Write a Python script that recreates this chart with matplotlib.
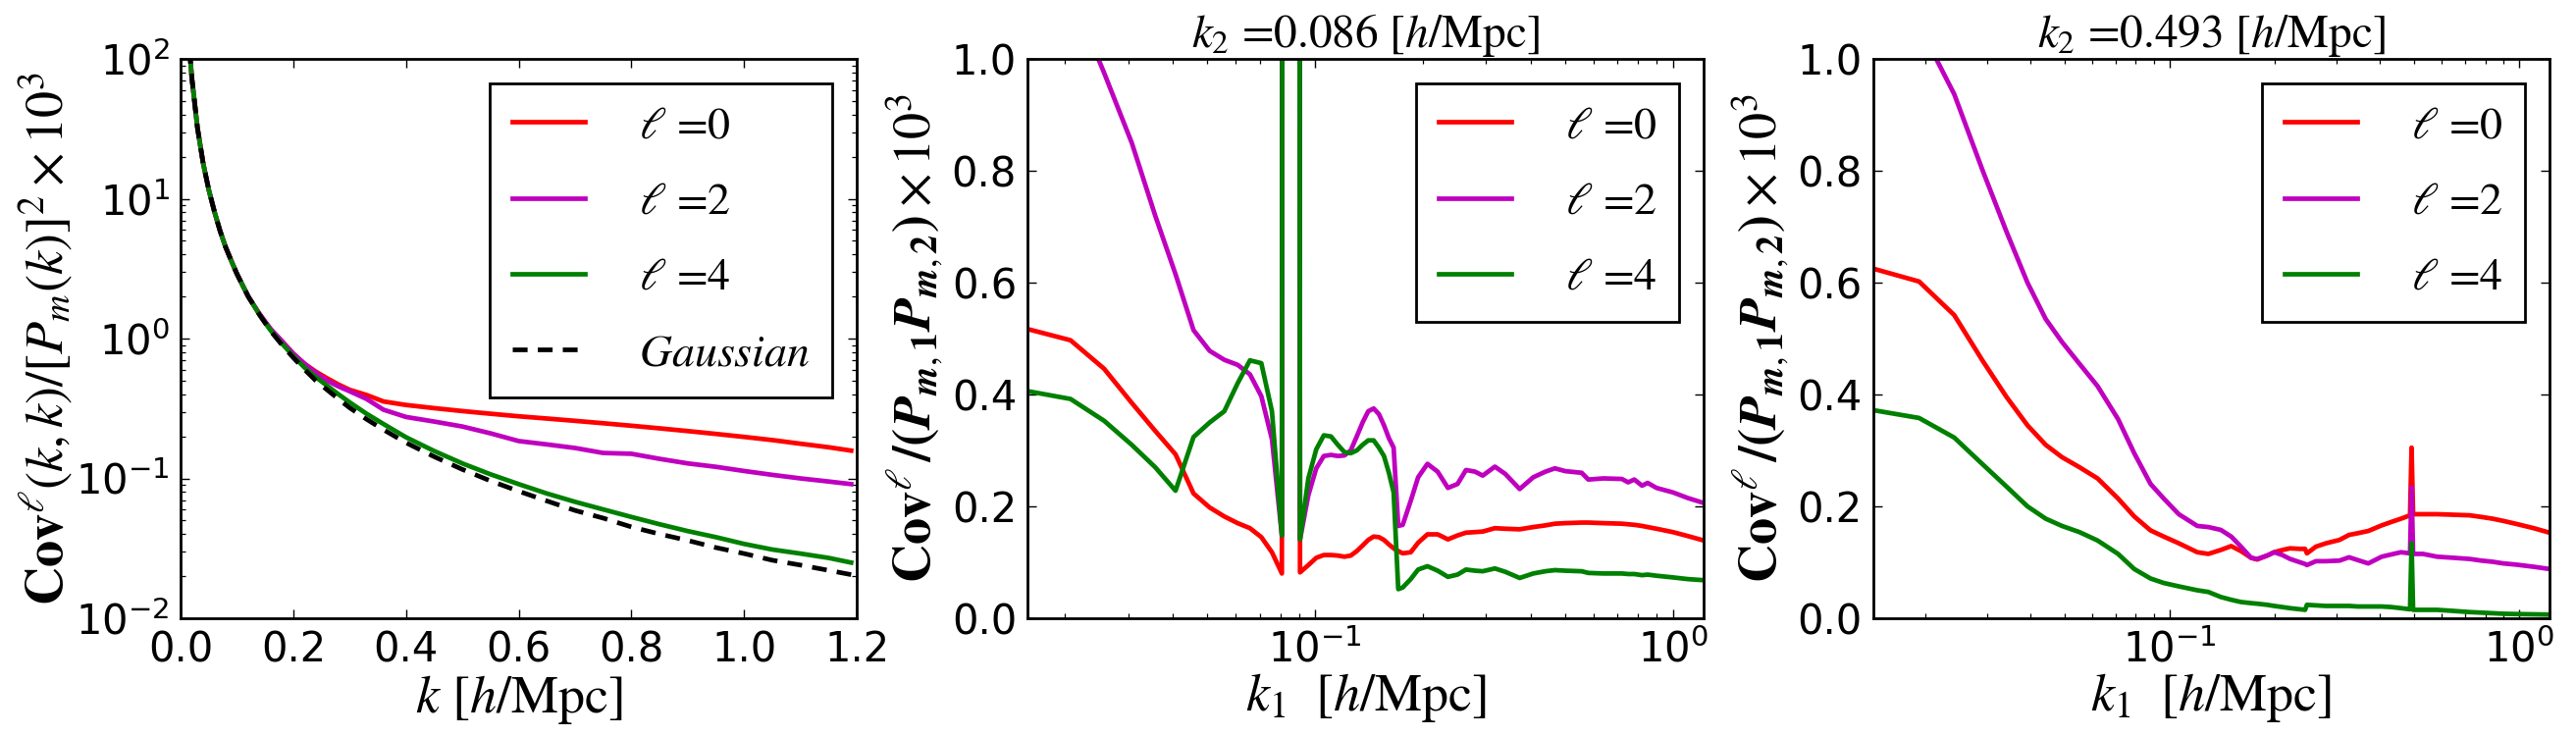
import matplotlib
matplotlib.use("Agg")
import matplotlib.pyplot as plt
import numpy as np

# ---------------- data ----------------
# Panel 1: diagonal covariance
k_diag = [0.0157, 0.02, 0.03, 0.04, 0.05, 0.06, 0.07, 0.08, 0.09, 0.10, 0.12, 0.14, 0.16, 0.18,
          0.20, 0.22, 0.24, 0.26, 0.28, 0.30, 0.33, 0.36, 0.40, 0.45, 0.50, 0.55, 0.60, 0.65,
          0.70, 0.75, 0.80, 0.85, 0.90, 0.95, 1.00, 1.05, 1.10, 1.15, 1.19]
gauss = [118, 73, 32, 18, 11.6, 8.1, 5.9, 4.5, 3.6, 2.9, 2.0, 1.48, 1.13, 0.90,
         0.73, 0.60, 0.50, 0.43, 0.37, 0.32, 0.265, 0.223, 0.18, 0.143, 0.116, 0.096, 0.081, 0.069,
         0.059, 0.052, 0.045, 0.040, 0.036, 0.032, 0.029, 0.026, 0.024, 0.022, 0.0205]
diag_l0 = [118, 73, 32, 18, 11.6, 8.1, 5.9, 4.5, 3.6, 2.9, 2.0, 1.5, 1.16, 0.95,
           0.78, 0.66, 0.58, 0.52, 0.47, 0.43, 0.395, 0.355, 0.335, 0.318, 0.303, 0.29, 0.278, 0.268,
           0.258, 0.248, 0.238, 0.228, 0.218, 0.208, 0.198, 0.188, 0.177, 0.167, 0.158]
diag_l2 = [118, 73, 32, 18, 11.6, 8.1, 5.9, 4.5, 3.6, 2.9, 2.0, 1.5, 1.17, 0.96,
           0.78, 0.66, 0.57, 0.50, 0.455, 0.42, 0.37, 0.31, 0.275, 0.255, 0.235, 0.21, 0.185, 0.175,
           0.165, 0.152, 0.150, 0.138, 0.128, 0.121, 0.113, 0.106, 0.100, 0.095, 0.091]
diag_l4 = [118, 73, 32, 18, 11.6, 8.1, 5.9, 4.5, 3.6, 2.9, 2.0, 1.48, 1.14, 0.92,
           0.75, 0.62, 0.53, 0.46, 0.40, 0.35, 0.29, 0.245, 0.197, 0.157, 0.128, 0.107, 0.091, 0.078,
           0.068, 0.060, 0.053, 0.047, 0.042, 0.038, 0.034, 0.031, 0.029, 0.027, 0.025]

# Panel 2: k2 = 0.086
k1_a = [0.0157, 0.0207, 0.0257, 0.0307, 0.0357, 0.0407, 0.0457, 0.0507, 0.0557, 0.0607,
        0.0657, 0.0707, 0.0757, 0.0807, 0.0857, 0.0907, 0.0957, 0.1007, 0.1057, 0.1107,
        0.1157, 0.1207, 0.1257, 0.1307, 0.1357, 0.1407, 0.1457, 0.1507, 0.1557, 0.1607,
        0.1657, 0.1707, 0.1757, 0.185, 0.194, 0.206, 0.22, 0.235, 0.25, 0.264,
        0.28, 0.294, 0.318, 0.34, 0.373, 0.407, 0.44, 0.468, 0.50, 0.556,
        0.58, 0.64, 0.72, 0.75, 0.78, 0.82, 0.85, 0.90, 1.0, 1.1, 1.22]
a_l0 = [0.517, 0.497, 0.446, 0.385, 0.335, 0.293, 0.223, 0.198, 0.182, 0.170,
        0.161, 0.145, 0.118, 0.080, 25.0, 0.082, 0.095, 0.108, 0.113, 0.113,
        0.112, 0.110, 0.112, 0.120, 0.130, 0.140, 0.146, 0.145, 0.140, 0.132,
        0.125, 0.120, 0.116, 0.118, 0.135, 0.150, 0.150, 0.141, 0.148, 0.153,
        0.154, 0.155, 0.161, 0.160, 0.159, 0.163, 0.166, 0.169, 0.170, 0.171,
        0.171, 0.170, 0.169, 0.168, 0.167, 0.165, 0.163, 0.160, 0.154, 0.147, 0.139]
a_l2 = [1.35, 1.12, 0.975, 0.85, 0.72, 0.615, 0.515, 0.478, 0.462, 0.453,
        0.436, 0.397, 0.32, 0.148, 25.0, 0.141, 0.22, 0.268, 0.290, 0.292,
        0.290, 0.291, 0.300, 0.325, 0.350, 0.370, 0.375, 0.365, 0.345, 0.322,
        0.305, 0.165, 0.167, 0.210, 0.252, 0.276, 0.262, 0.233, 0.240, 0.265,
        0.262, 0.255, 0.271, 0.258, 0.231, 0.252, 0.262, 0.268, 0.263, 0.260,
        0.248, 0.250, 0.249, 0.243, 0.248, 0.237, 0.242, 0.233, 0.225, 0.215, 0.206]
a_l4 = [0.406, 0.392, 0.353, 0.31, 0.27, 0.228, 0.324, 0.35, 0.37, 0.42,
        0.461, 0.456, 0.37, 0.148, 25.0, 0.141, 0.25, 0.302, 0.327, 0.325,
        0.310, 0.297, 0.295, 0.300, 0.310, 0.318, 0.318, 0.305, 0.290, 0.260,
        0.225, 0.052, 0.055, 0.070, 0.087, 0.093, 0.085, 0.074, 0.078, 0.087,
        0.085, 0.084, 0.089, 0.083, 0.072, 0.080, 0.084, 0.086, 0.085, 0.084,
        0.081, 0.080, 0.080, 0.079, 0.079, 0.077, 0.078, 0.076, 0.073, 0.070, 0.068]

# Panel 3: k2 = 0.493
k1_b = [0.0142, 0.0192, 0.0242, 0.0292, 0.0342, 0.0392, 0.0442, 0.0492, 0.0552, 0.0622,
        0.0712, 0.0792, 0.0882, 0.0962, 0.1062, 0.12, 0.129, 0.14, 0.15, 0.16,
        0.171, 0.178, 0.19, 0.199, 0.21, 0.221, 0.236, 0.244, 0.247, 0.262,
        0.28, 0.306, 0.326, 0.345, 0.37, 0.404, 0.43, 0.459, 0.487, 0.492,
        0.497, 0.53, 0.582, 0.65, 0.721, 0.78, 0.838, 0.9, 0.975, 1.1, 1.22]
b_l0 = [0.625, 0.602, 0.542, 0.46, 0.395, 0.345, 0.31, 0.288, 0.27, 0.25,
        0.214, 0.182, 0.157, 0.146, 0.134, 0.118, 0.115, 0.122, 0.129, 0.12,
        0.108, 0.105, 0.112, 0.118, 0.122, 0.125, 0.124, 0.124, 0.116, 0.128,
        0.134, 0.14, 0.149, 0.152, 0.156, 0.166, 0.172, 0.178, 0.184, 0.305,
        0.186, 0.186, 0.186, 0.185, 0.184, 0.181, 0.178, 0.174, 0.169, 0.161, 0.153]
b_l2 = [1.3, 1.06, 0.937, 0.80, 0.69, 0.60, 0.535, 0.494, 0.455, 0.415,
        0.356, 0.295, 0.24, 0.214, 0.186, 0.165, 0.163, 0.158, 0.146, 0.128,
        0.108, 0.106, 0.112, 0.118, 0.113, 0.106, 0.100, 0.097, 0.095, 0.102,
        0.102, 0.103, 0.109, 0.104, 0.098, 0.110, 0.114, 0.118, 0.116, 0.234,
        0.115, 0.115, 0.110, 0.108, 0.106, 0.103, 0.101, 0.098, 0.096, 0.092, 0.088]
b_l4 = [0.372, 0.358, 0.323, 0.275, 0.235, 0.20, 0.178, 0.165, 0.154, 0.139,
        0.115, 0.088, 0.071, 0.063, 0.057, 0.050, 0.047, 0.038, 0.033, 0.029,
        0.027, 0.026, 0.024, 0.022, 0.020, 0.018, 0.016, 0.015, 0.024, 0.023,
        0.022, 0.022, 0.022, 0.021, 0.021, 0.021, 0.020, 0.018, 0.016, 0.134,
        0.015, 0.015, 0.015, 0.013, 0.011, 0.010, 0.009, 0.008, 0.0075, 0.007, 0.0065]

ell_labels = [r"$\ell$ =0", r"$\ell$ =2", r"$\ell$ =4"]
gauss_label = r"$Gaussian$"
titles = [r"$k_2$ =0.086 [$h$/Mpc]", r"$k_2$ =0.493 [$h$/Mpc]"]
colors = ["#ff0000", "#bf00bf", "#008000"]

# ---------------- style ----------------
plt.rcParams["font.family"] = ["DejaVu Sans"]
plt.rcParams["mathtext.fontset"] = "dejavusans"
TICK = 30
LAB = 39
LEG = 33
LW = 3.4

fig = plt.figure(figsize=(26.25, 7.5), dpi=100)
W = 0.2625
axs = [fig.add_axes([x0, 0.16, W, 0.76]) for x0 in (0.0701, 0.3989, 0.7272)]


def style(ax):
    ax.tick_params(which="both", direction="in", top=True, right=True, labelsize=TICK, pad=8)
    ax.tick_params(which="major", length=6.5, width=1.0)
    ax.tick_params(which="minor", length=3.6, width=0.9)
    for s in ax.spines.values():
        s.set_linewidth(2.0)


def make_legend(ax):
    leg = ax.legend(loc="upper right", prop={"family": "STIXGeneral", "size": LEG},
                    handlelength=1.6, handletextpad=1.2, borderpad=0.5, labelspacing=0.77,
                    borderaxespad=0.55, fancybox=False, edgecolor="black", framealpha=1)
    leg.get_frame().set_linewidth(2.0)
    for t in leg.get_texts():
        t.set_math_fontfamily("stix")
    return leg


# Panel 1
ax = axs[0]
for y, c, lab in zip([diag_l0, diag_l2, diag_l4], colors, ell_labels):
    ax.plot(k_diag, y, color=c, lw=LW, label=lab)
ax.plot(k_diag, gauss, color="black", lw=LW, ls=(0, (3.2, 2.2)), label=gauss_label)
ax.set_yscale("log")
ax.set_xlim(0, 1.2)
ax.set_ylim(1e-2, 1e2)
ax.set_xticks([0.0, 0.2, 0.4, 0.6, 0.8, 1.0, 1.2])
ax.set_xticklabels(["0.0", "0.2", "0.4", "0.6", "0.8", "1.0", "1.2"])
style(ax)
ax.set_xlabel(r"$k\ [h/\mathrm{Mpc}]$", fontsize=LAB, math_fontfamily="stix", labelpad=2)
ax.set_ylabel(r"$\mathbf{Cov}^{\ell}(k,k)/[P_m(k)]^2\times10^3$",
              fontsize=LAB, math_fontfamily="stix", labelpad=0)
make_legend(ax)

# Panels 2 and 3
for ax, kk, ys, ttl in [(axs[1], k1_a, [a_l0, a_l2, a_l4], titles[0]),
                        (axs[2], k1_b, [b_l0, b_l2, b_l4], titles[1])]:
    for y, c, lab in zip(ys, colors, ell_labels):
        ax.plot(kk, y, color=c, lw=LW, label=lab)
    ax.set_xscale("log")
    ax.set_xlim(min(kk), max(kk))
    ax.set_ylim(0, 1.0)
    ax.set_yticks([0.0, 0.2, 0.4, 0.6, 0.8, 1.0])
    ax.set_yticklabels(["0.0", "0.2", "0.4", "0.6", "0.8", "1.0"])
    style(ax)
    ax.set_title(ttl, fontsize=34, math_fontfamily="stix", family="STIXGeneral", pad=3)
    ax.set_xlabel(r"$k_1\ \ [h/\mathrm{Mpc}]$", fontsize=LAB, math_fontfamily="stix", labelpad=0)
    ax.set_ylabel(r"$\mathbf{Cov}^{\ell}\,\mathbf{/(}\mathbfit{P}_{\mathbfit{m},\mathbf{1}}\mathbfit{P}_{\mathbfit{m},\mathbf{2}}\mathbf{)}\times10^3$",
                  fontsize=LAB, math_fontfamily="stix", labelpad=4)
    make_legend(ax)

fig.savefig("out.png", dpi=100)
